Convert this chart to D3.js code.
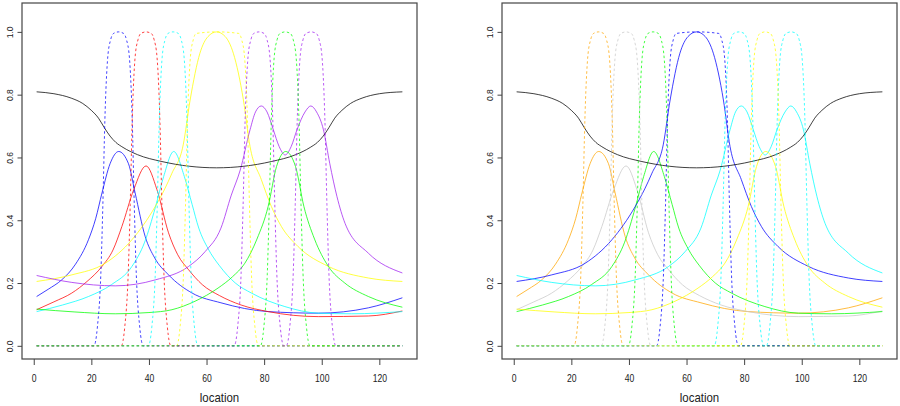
<!DOCTYPE html>
<html>
<head>
<meta charset="utf-8">
<script src="https://cdn.jsdelivr.net/npm/d3@7"></script>
<style>
  body { margin: 0; background: #ffffff; }
  svg { display: block; }
  text { font-family: "Liberation Sans", Arial, Helvetica, sans-serif; fill: #222; }
</style>
</head>
<body>
<svg id="chart" width="900" height="406"></svg>
<script>
// ---------------- data ----------------
const xTicks = [0, 20, 40, 60, 80, 100, 120];
const yTicks = [0, 0.2, 0.4, 0.6, 0.8, 1.0];
const yTickLabels = ["0.0", "0.2", "0.4", "0.6", "0.8", "1.0"];
const xLabel = "location";

// solid weight curves
const locW1 = [1, 5, 9.7, 14.5, 19, 21.5, 23.7, 26.5, 29.5, 32.9, 35.2, 38.7, 42, 46.8, 55, 65, 81.4, 98.8, 116.2, 128];
const valW1 = [0.157, 0.18, 0.21, 0.26, 0.338, 0.405, 0.487, 0.58, 0.619, 0.58, 0.487, 0.348, 0.28, 0.226, 0.168, 0.137, 0.109, 0.104, 0.121, 0.153];

const locW2 = [1, 7, 13.2, 18.5, 23.7, 27.5, 30.6, 34.7, 39, 42.8, 46.8, 50, 53.8, 58.5, 64.5, 72, 81.4, 98.8, 116.2, 128];
const valW2 = [0.115, 0.14, 0.168, 0.205, 0.253, 0.305, 0.38, 0.497, 0.573, 0.497, 0.36, 0.29, 0.242, 0.195, 0.16, 0.13, 0.109, 0.093, 0.095, 0.111];

const locW3 = [1, 10, 19, 27, 34.1, 38.5, 42.2, 45.1, 48.6, 52.3, 55, 57.3, 60.5, 64.5, 70, 75.6, 87.2, 98.8, 110.4, 128];
const valW3 = [0.109, 0.13, 0.157, 0.195, 0.253, 0.33, 0.44, 0.539, 0.619, 0.539, 0.45, 0.375, 0.31, 0.255, 0.2, 0.168, 0.125, 0.104, 0.102, 0.109];

const locW4 = [1, 13.2, 24.8, 34.1, 42.2, 45.5, 48, 51.9, 54.3, 57.7, 60.5, 63.5, 66.5, 69.3, 72.8, 75.1, 79, 82.5, 86, 91.8, 102.3, 116.2, 128];
const valW4 = [0.205, 0.226, 0.263, 0.338, 0.444, 0.5, 0.55, 0.64, 0.783, 0.932, 0.985, 1.0, 0.985, 0.932, 0.783, 0.635, 0.53, 0.444, 0.38, 0.316, 0.253, 0.216, 0.205];

const locW5 = [1, 13.2, 28.3, 42.2, 53.8, 59.5, 65, 68.6, 71.7, 75.1, 77, 79, 81, 83.2, 85.2, 87.3, 89.4, 91.4, 94.2, 96.2, 98.2, 100.6, 102.8, 105.3, 108.1, 116.2, 128];
const valW5 = [0.224, 0.202, 0.191, 0.21, 0.253, 0.3, 0.375, 0.48, 0.56, 0.688, 0.745, 0.764, 0.745, 0.688, 0.635, 0.608, 0.635, 0.688, 0.745, 0.764, 0.745, 0.688, 0.58, 0.475, 0.39, 0.295, 0.232];

const locW6 = [1, 14, 28.3, 40, 48, 56, 64, 69, 73.3, 77.5, 81.4, 84.3, 87.5, 90.9, 93.8, 97.5, 102.3, 108, 116.2, 128];
const valW6 = [0.117, 0.108, 0.102, 0.106, 0.115, 0.142, 0.184, 0.22, 0.263, 0.34, 0.444, 0.571, 0.619, 0.571, 0.444, 0.34, 0.253, 0.2, 0.157, 0.123];

const locBlack = [1, 7, 13, 17, 20, 22.5, 24.5, 26.5, 28.5, 31, 36, 44.5, 54, 63.5, 73, 82.5, 91, 96, 98.5, 100.5, 102.5, 104.5, 107, 110, 114, 120, 128];
const valBlack = [0.809, 0.803, 0.789, 0.772, 0.75, 0.725, 0.695, 0.668, 0.648, 0.632, 0.609, 0.587, 0.572, 0.567, 0.572, 0.587, 0.609, 0.632, 0.648, 0.668, 0.695, 0.725, 0.75, 0.772, 0.789, 0.803, 0.809];

// dashed (plateau) curves
const locS1 = [1, 20.9, 22.1, 23.3, 24.0, 24.7, 25.7, 26.7, 27.7, 29.45, 31.2, 32.2, 33.2, 34.2, 34.9, 35.6, 36.8, 38.0, 128];
const valS1 = [0, 0, 0.06, 0.23, 0.45, 0.72, 0.92, 0.975, 0.995, 1, 0.995, 0.975, 0.92, 0.72, 0.45, 0.23, 0.06, 0, 0];

const locS2 = [1, 30.4, 31.6, 32.8, 33.5, 34.2, 35.2, 36.2, 37.2, 39.0, 40.8, 41.8, 42.8, 43.8, 44.5, 45.2, 46.4, 47.6, 128];
const valS2 = [0, 0, 0.06, 0.23, 0.45, 0.72, 0.92, 0.975, 0.995, 1, 0.995, 0.975, 0.92, 0.72, 0.45, 0.23, 0.06, 0, 0];

const locS3 = [1, 39.8, 41.0, 42.2, 42.9, 43.6, 44.6, 45.6, 46.6, 48.4, 50.2, 51.2, 52.2, 53.2, 53.9, 54.6, 55.8, 57.0, 128];
const valS3 = [0, 0, 0.06, 0.23, 0.45, 0.72, 0.92, 0.975, 0.995, 1, 0.995, 0.975, 0.92, 0.72, 0.45, 0.23, 0.06, 0, 0];

const locS4 = [1, 49.6, 50.8, 52.0, 52.7, 53.4, 54.4, 55.4, 56.4, 63.8, 71.2, 72.2, 73.2, 74.2, 74.9, 75.6, 76.8, 78.0, 128];
const valS4 = [0, 0, 0.06, 0.23, 0.45, 0.72, 0.92, 0.975, 0.995, 1, 0.995, 0.975, 0.92, 0.72, 0.45, 0.23, 0.06, 0, 0];

const locS5 = [1, 69.6, 70.8, 72.0, 72.7, 73.4, 74.4, 75.4, 76.4, 78.2, 80.0, 81.0, 82.0, 83.0, 83.7, 84.4, 85.6, 86.8,
               87.7, 88.9, 90.1, 90.8, 91.5, 92.5, 93.5, 94.5, 96.3, 98.1, 99.1, 100.1, 101.1, 101.8, 102.5, 103.7, 104.9, 128];
const valS5 = [0, 0, 0.06, 0.23, 0.45, 0.72, 0.92, 0.975, 0.995, 1, 0.995, 0.975, 0.92, 0.72, 0.45, 0.23, 0.06, 0,
               0, 0.06, 0.23, 0.45, 0.72, 0.92, 0.975, 0.995, 1, 0.995, 0.975, 0.92, 0.72, 0.45, 0.23, 0.06, 0, 0];

const locS6 = [1, 78.7, 79.9, 81.1, 81.8, 82.5, 83.5, 84.5, 85.5, 87.3, 89.1, 90.1, 91.1, 92.1, 92.8, 93.5, 94.7, 95.9, 128];
const valS6 = [0, 0, 0.06, 0.23, 0.45, 0.72, 0.92, 0.975, 0.995, 1, 0.995, 0.975, 0.92, 0.72, 0.45, 0.23, 0.06, 0, 0];

// colours of each panel (component order 1..6)
const leftColors  = ["#0000ff", "#ff0000", "#00ffff", "#ffff00", "#a020f0", "#00ff00"];
const rightColors = ["#ffa500", "#c8c8c8", "#00ff00", "#0000ff", "#00ffff", "#ffff00"];
const blackColor = "#000000";

// ---------------- drawing ----------------
const solidSeries = [[locW1, valW1], [locW2, valW2], [locW3, valW3], [locW4, valW4], [locW5, valW5], [locW6, valW6]];
const dashedSeries = [[locS1, valS1], [locS2, valS2], [locS3, valS3], [locS4, valS4], [locS5, valS5], [locS6, valS6]];

const svg = d3.select("#chart");
const panels = [
  { left: 22, right: 417, colors: leftColors },
  { left: 502, right: 897, colors: rightColors }
];
const plotTop = 3, plotBottom = 359;

panels.forEach(p => {
  const x = d3.scaleLinear().domain([-4.08, 133.08]).range([p.left, p.right]);
  const y = d3.scaleLinear().domain([-0.042, 1.092]).range([plotBottom, plotTop]);
  const g = svg.append("g");

  const line = d3.line()
    .x(d => x(d[0]))
    .y(d => y(d[1]))
    .curve(d3.curveMonotoneX);
  const pairs = (lx, ly) => lx.map((v, i) => [v, ly[i]]);

  const plot = g.append("g");
  // solid curves
  solidSeries.forEach((s, i) => {
    plot.append("path")
      .attr("d", line(pairs(s[0], s[1])))
      .attr("fill", "none")
      .attr("stroke", p.colors[i])
      .attr("stroke-opacity", 0.75)
      .attr("stroke-width", 1);
  });
  plot.append("path")
    .attr("d", line(pairs(locBlack, valBlack)))
    .attr("fill", "none")
    .attr("stroke", blackColor)
    .attr("stroke-opacity", 0.75)
    .attr("stroke-width", 1);
  // dashed curves
  dashedSeries.forEach((s, i) => {
    plot.append("path")
      .attr("d", line(pairs(s[0], s[1])))
      .attr("fill", "none")
      .attr("stroke", p.colors[i])
      .attr("stroke-opacity", 0.75)
      .attr("stroke-width", 1)
      .attr("stroke-dasharray", "2.5,2.5");
  });

  // box
  g.append("rect")
    .attr("x", p.left).attr("y", plotTop)
    .attr("width", p.right - p.left).attr("height", plotBottom - plotTop)
    .attr("fill", "none").attr("stroke", "#444").attr("stroke-width", 1.2);

  // x axis
  const xa = g.append("g").attr("transform", `translate(0,${plotBottom})`)
    .call(d3.axisBottom(x).tickValues(xTicks).tickSize(6).tickPadding(10).tickFormat(d3.format("d")));
  xa.select(".domain").remove();
  xa.selectAll(".tick line").attr("stroke", "#444");
  xa.selectAll(".tick text")
    .attr("font-size", 10.5).attr("fill", "#222")
    .attr("font-family", "Liberation Sans, Arial, sans-serif")
    .attr("transform", "scale(0.82,1)")
    .attr("x", 0);

  // y axis
  const ya = g.append("g").attr("transform", `translate(${p.left},0)`)
    .call(d3.axisLeft(y).tickValues(yTicks).tickSize(4.5).tickFormat((d, i) => yTickLabels[i]));
  ya.select(".domain").remove();
  ya.selectAll(".tick line").attr("stroke", "#444");
  ya.selectAll(".tick text")
    .attr("font-size", 8.5).attr("fill", "#222")
    .attr("font-family", "Liberation Sans, Arial, sans-serif")
    .attr("text-anchor", "middle")
    .attr("x", null).attr("dy", null)
    .attr("dominant-baseline", "central")
    .attr("transform", "translate(-12.5,0) rotate(-90)");

  // axis title
  g.append("text")
    .attr("transform", `translate(${(p.left + p.right) / 2},402) scale(0.88,1)`)
    .attr("text-anchor", "middle")
    .attr("font-size", 13)
    .text(xLabel);
});
</script>
</body>
</html>
